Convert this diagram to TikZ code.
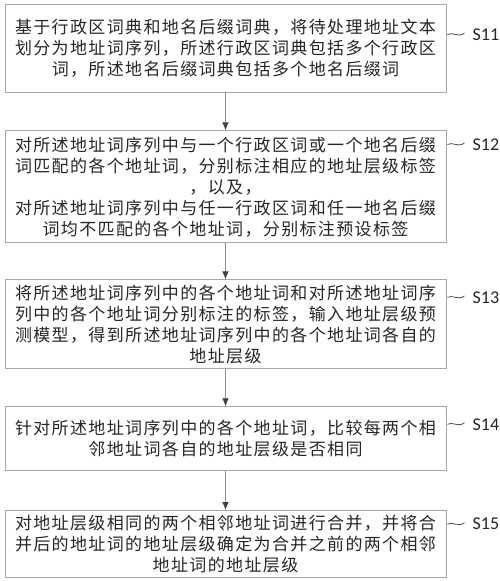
\documentclass[tikz,border=0pt]{standalone}
\usepackage{fontspec}
\newfontfamily\cjk[LetterSpace=8]{Noto Sans CJK SC}
\setsansfont{Carlito}
\usetikzlibrary{arrows.meta, positioning}

\tikzset{
  stepbox/.style={draw=black!35, line width=0.9pt, minimum width=441pt, align=center, inner xsep=0pt, font=\cjk\fontsize{17pt}{21pt}\selectfont, text=black!85},
  steplabel/.style={font=\sffamily\fontsize{18pt}{18pt}\selectfont, inner xsep=1pt, anchor=west, text=black!85},
  flow/.style={-{Latex[length=8pt, width=6.5pt, color=black!75]}, draw=black!45, line width=0.8pt},
  wave/.style={draw=black!70, line width=0.8pt}
}

\begin{document}
\begin{tikzpicture}
    \useasboundingbox (0,0) rectangle (500pt,-581pt);
    \node[stepbox, minimum height=88pt] (s11) at (225.5pt,-48pt) {基于行政区词典和地名后缀词典，将待处理地址文本\\划分为地址词序列，所述行政区词典包括多个行政区\\词，所述地名后缀词典包括多个地名后缀词};
    \node[stepbox, minimum height=112pt, below=38pt of s11] (s12) {对所述地址词序列中与一个行政区词或一个地名后缀\\词匹配的各个地址词，分别标注相应的地址层级标签\\，以及，\\对所述地址词序列中与任一行政区词和任一地名后缀\\词均不匹配的各个地址词，分别标注预设标签};
    \node[stepbox, minimum height=89pt, below=36pt of s12] (s13) {将所述地址词序列中的各个地址词和对所述地址词序\\列中的各个地址词分别标注的标签，输入地址层级预\\测模型，得到所述地址词序列中的各个地址词各自的\\地址层级};
    \node[stepbox, minimum height=64pt, below=37pt of s13] (s14) {针对所述地址词序列中的各个地址词，比较每两个相\\邻地址词各自的地址层级是否相同};
    \node[stepbox, minimum height=67pt, below=39pt of s14] (s15) {对地址层级相同的两个相邻地址词进行合并，并将合\\并后的地址词的地址层级确定为合并之前的两个相邻\\地址词的地址层级};
    \draw[flow] (s11) -- (s12);
    \draw[flow] (s12) -- (s13);
    \draw[flow] (s13) -- (s14);
    \draw[flow] (s14) -- (s15);
    % step labels
    \node[steplabel] (l11) at ([xshift=25pt, yshift=-31pt]s11.north east) {S11};
    \node[steplabel] (l12) at ([xshift=25pt, yshift=-14pt]s12.north east) {S12};
    \node[steplabel] (l13) at ([xshift=25pt, yshift=-18pt]s13.north east) {S13};
    \node[steplabel] (l14) at ([xshift=25pt, yshift=-18pt]s14.north east) {S14};
    \node[steplabel] (l15) at ([xshift=25pt, yshift=-14pt]s15.north east) {S15};
    \draw[wave] ([xshift=1pt]s11.east |- l11.west) .. controls +(5pt,3pt) and +(-6pt,-5pt) .. ([xshift=-7pt, yshift=1.5pt]l11.west);
    \draw[wave] ([xshift=1pt]s12.east |- l12.west) .. controls +(5pt,3pt) and +(-6pt,-5pt) .. ([xshift=-7pt, yshift=1.5pt]l12.west);
    \draw[wave] ([xshift=1pt]s13.east |- l13.west) .. controls +(5pt,3pt) and +(-6pt,-5pt) .. ([xshift=-7pt, yshift=1.5pt]l13.west);
    \draw[wave] ([xshift=1pt]s14.east |- l14.west) .. controls +(5pt,3pt) and +(-6pt,-5pt) .. ([xshift=-7pt, yshift=1.5pt]l14.west);
    \draw[wave] ([xshift=1pt]s15.east |- l15.west) .. controls +(5pt,3pt) and +(-6pt,-5pt) .. ([xshift=-7pt, yshift=1.5pt]l15.west);
\end{tikzpicture}
\end{document}
